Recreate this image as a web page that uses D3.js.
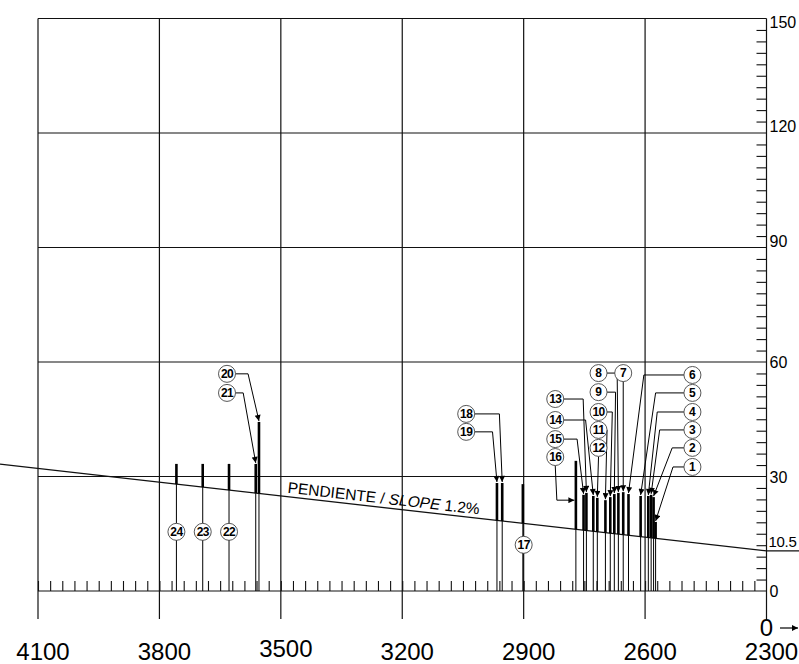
<!DOCTYPE html>
<html>
<head>
<meta charset="utf-8">
<script src="https://cdn.jsdelivr.net/npm/d3@7"></script>
<style>
    body { margin: 0; background: #fff; }
    svg { display: block; font-family: "Liberation Sans", Arial, sans-serif; }
</style>
</head>
<body>
<svg id="chart" width="799" height="664"></svg>
<script>

// axis values
const xTicks = [4100, 3800, 3500, 3200, 2900, 2600, 2300];
const yTicks = [0, 30, 60, 90, 120, 150];
const slopeLabelVal = 10.5;   // value of the slope line at 2300
const slopePct = 1.2;

// numbered items: position on the x axis and height of the top
const ids    = [1, 2, 3, 4, 5, 6, 7, 8, 9, 10, 11, 12, 13, 14, 15, 16, 17, 18, 19, 20, 21, 22, 23, 24];
const posMm  = [2574, 2579, 2585, 2592, 2611, 2641, 2654, 2666, 2676, 2686, 2698, 2718,
                2745, 2728, 2752, 2771, 2902, 2953, 2966, 3554, 3562, 3628, 3693, 3758];
const topVal = [18.1, 24.6, 25.2, 24.9, 24.9, 25.4, 25.9, 25.7, 25.4, 24.6, 23.8, 24.4,
                25.7, 24.9, 25.2, 34.1, 28.0, 28.3, 28.3, 44.3, 33.3, 33.3, 33.3, 33.3];

// callout circles, in chart units
const tagX = [2483, 2483, 2483, 2483, 2483, 2483, 2654, 2715, 2715, 2715, 2715, 2715,
              2822, 2822, 2822, 2822, 2900, 3042, 3042, 3633, 3633, 3628, 3693, 3758];
const tagY = [32.5, 37.5, 42.2, 46.9, 51.9, 56.6, 57.1, 57.1, 52.1, 46.9, 42.2, 37.5,
              50.3, 44.8, 39.8, 35.1, 12.1, 46.4, 41.7, 56.9, 51.9, 15.5, 15.5, 15.5];
// leader kind: h = across then down, v = straight down, d = down then across, n = none
const leaderKind = ['h', 'h', 'h', 'h', 'h', 'h', 'v', 'h', 'h', 'h', 'h', 'v',
                    'h', 'h', 'h', 'd', 'n', 'h', 'h', 'h', 'h', 'n', 'n', 'n'];
const kneeX = [2531, 2533, 2564, 2570, 2574, 2603, null, 2669, 2673, 2681, 2694, null,
               2753, 2747, 2768, 2818, null, 2960, 2977, 3581, 3593, null, null, null];
const kneeY = [null, null, null, null, null, null, null, null, null, null, null, null,
               null, null, null, 23.8, null, null, null, null, null, null, null, null];


const svg = d3.select('#chart');
const x = d3.scaleLinear().domain([4100, 2300]).range([38, 766.5]);
const y = d3.scaleLinear().domain([0, 150]).range([591, 18.5]);
const gridBottom = 619;
const slopeAt = v => slopeLabelVal + slopePct / 100 * (v - 2300);

let defs = svg.append('defs');
defs.append('marker')
    .attr('id', 'arrow')
    .attr('viewBox', '0 0 10 10')
    .attr('refX', 10).attr('refY', 5)
    .attr('markerUnits', 'userSpaceOnUse')
    .attr('markerWidth', 9).attr('markerHeight', 6)
    .attr('orient', 'auto')
    .append('path')
    .attr('d', 'M0,0 L10,5 L0,10 Z')
    .attr('fill', '#000');

// grid
let grid = svg.append('g').attr('stroke', '#111').attr('stroke-width', 1.2);
grid.selectAll('.vg').data(xTicks).enter().append('line')
    .attr('x1', d => x(d)).attr('x2', d => x(d))
    .attr('y1', y(150)).attr('y2', gridBottom);
grid.selectAll('.hg').data(yTicks).enter().append('line')
    .attr('x1', x(4100)).attr('x2', x(2300))
    .attr('y1', d => y(d)).attr('y2', d => y(d));

// minor ticks on the base line
const baseTicks = d3.range(4100, 2300, -30).filter(d => d % 300 !== 0);
const baseAxis = svg.append('g')
    .attr('transform', 'translate(0,' + y(0) + ')')
    .call(d3.axisTop(x).tickValues(baseTicks).tickSize(10).tickFormat(''));
baseAxis.select('.domain').remove();
baseAxis.selectAll('line').attr('stroke', '#111').attr('stroke-width', 1.1);

// minor ticks on the right axis
const sideTicks = d3.range(3, 150, 3).filter(d => d % 30 !== 0);
const sideAxis = svg.append('g')
    .attr('transform', 'translate(' + x(2300) + ',0)')
    .call(d3.axisLeft(y).tickValues(sideTicks).tickSize(10).tickFormat(''));
sideAxis.select('.domain').remove();
sideAxis.selectAll('line').attr('stroke', '#111').attr('stroke-width', 1.1);

// right axis labels
const labelShift = v => v === 150 ? 9 : (v === 120 || v === 90) ? -1 : 6;
svg.selectAll('.ylab').data(yTicks).enter().append('text')
    .attr('x', x(2300) + 3)
    .attr('y', d => y(d) + labelShift(d))
    .attr('font-size', 16)
    .text(d => d);
svg.append('text')
    .attr('x', x(2300) + 2).attr('y', y(slopeLabelVal) - 4)
    .attr('font-size', 15)
    .attr('letter-spacing', -0.3)
    .text(slopeLabelVal);
svg.append('line')
    .attr('x1', x(2300)).attr('x2', 799)
    .attr('y1', y(slopeLabelVal)).attr('y2', y(slopeLabelVal))
    .attr('stroke', '#111').attr('stroke-width', 1.2);

// bottom labels
svg.selectAll('.xlab').data(xTicks).enter().append('text')
    .attr('x', d => x(d) + 5)
    .attr('y', d => d === 3500 ? 657 : 660)
    .attr('text-anchor', 'middle')
    .attr('font-size', 24)
    .text(d => d);
svg.append('text')
    .attr('x', x(2300)).attr('y', 636)
    .attr('text-anchor', 'middle')
    .attr('font-size', 24)
    .text('0');
svg.append('line')
    .attr('x1', 780).attr('x2', 798)
    .attr('y1', 628).attr('y2', 628)
    .attr('stroke', '#000').attr('stroke-width', 1.2)
    .attr('marker-end', 'url(#arrow)');

// slope line
const slopeStart = x.invert(0);
svg.append('line')
    .attr('x1', x(slopeStart)).attr('y1', y(slopeAt(slopeStart)))
    .attr('x2', x(2300)).attr('y2', y(slopeAt(2300)))
    .attr('stroke', '#111').attr('stroke-width', 1.3);

const angle = Math.atan2(y(slopeAt(2300)) - y(slopeAt(4100)), x(2300) - x(4100)) * 180 / Math.PI;
const labelAt = 3484;
let slopeText = svg.append('text')
    .attr('transform', 'translate(' + x(labelAt) + ',' + (y(slopeAt(labelAt)) - 4) + ') rotate(' + angle + ')')
    .attr('font-size', 15.5);
slopeText.append('tspan').text('PENDIENTE / ');
slopeText.append('tspan').attr('font-style', 'italic').text('SLOPE');
slopeText.append('tspan').text(' ' + slopePct + '%');

// items
let items = ids.map((id, i) => ({ id: id, pos: posMm[i], top: topVal[i] }));

svg.selectAll('.thin').data(items).enter().append('line')
    .attr('x1', d => x(d.pos)).attr('x2', d => x(d.pos))
    .attr('y1', d => y(slopeAt(d.pos))).attr('y2', y(0))
    .attr('stroke', '#000').attr('stroke-width', 1);

svg.selectAll('.thick').data(items).enter().append('line')
    .attr('x1', d => x(d.pos)).attr('x2', d => x(d.pos))
    .attr('y1', d => y(d.top)).attr('y2', d => y(slopeAt(d.pos)))
    .attr('stroke', '#000').attr('stroke-width', 2.6);

// leaders
const r = 8.5;
let leaders = svg.append('g').attr('fill', 'none').attr('stroke', '#000').attr('stroke-width', 1);
ids.forEach((id, i) => {
    let kind = leaderKind[i];
    if (kind === 'n') return;
    let cx = x(tagX[i]), cy = y(tagY[i]);
    let tx = x(posMm[i]), ty = y(topVal[i]) - 1;
    let pts;
    if (kind === 'h') {
        let kx = x(kneeX[i]);
        let sx = kx > cx ? cx + r : cx - r;
        pts = [[sx, cy], [kx, cy], [tx, ty]];
    } else if (kind === 'v') {
        pts = [[cx, cy + r], [tx, ty]];
    } else {
        let kx = x(kneeX[i]), ky = y(kneeY[i]);
        pts = [[cx, cy + r], [kx, ky], [tx - 1.5, ky]];
    }
    leaders.append('path')
        .attr('d', d3.line()(pts))
        .attr('marker-end', 'url(#arrow)');
});

// callout circles
let tags = svg.selectAll('.tag').data(items).enter().append('g')
    .attr('transform', (d, i) => 'translate(' + x(tagX[i]) + ',' + y(tagY[i]) + ')');
tags.append('circle')
    .attr('r', r)
    .attr('fill', '#fff')
    .attr('stroke', '#444')
    .attr('stroke-width', 0.9);
tags.append('text')
    .attr('text-anchor', 'middle')
    .attr('dy', '0.36em')
    .attr('font-size', 12)
    .attr('font-weight', 'bold')
    .attr('letter-spacing', d => d.id > 9 ? -0.6 : 0)
    .text(d => d.id);

</script>
</body>
</html>
